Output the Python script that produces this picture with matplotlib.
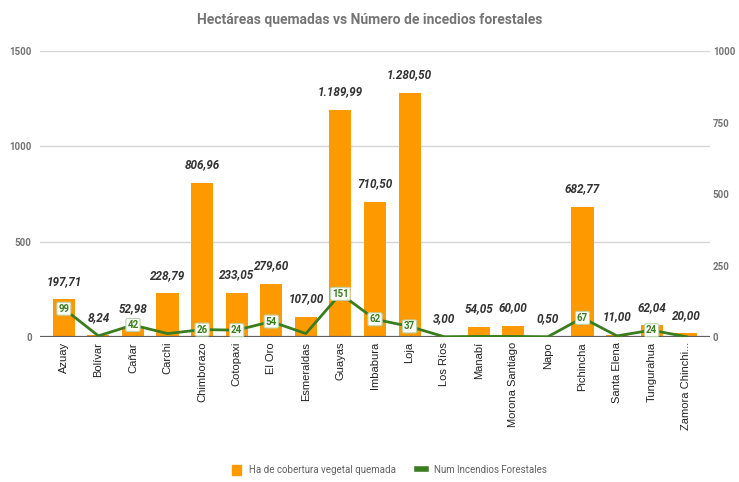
import numpy as np
import matplotlib.pyplot as plt

provincias = ['Azuay', 'Bolívar', 'Cañar', 'Carchi', 'Chimborazo', 'Cotopaxi',
              'El Oro', 'Esmeraldas', 'Guayas', 'Imbabura', 'Loja', 'Los Ríos',
              'Manabí', 'Morona Santiago', 'Napo', 'Pichincha', 'Santa Elena',
              'Tungurahua', 'Zamora Chinchi...']
hectareas = [197.71, 8.24, 52.98, 228.79, 806.96, 233.05, 279.60, 107.00,
             1189.99, 710.50, 1280.50, 3.00, 54.05, 60.00, 0.50, 682.77,
             11.00, 62.04, 20.00]
incendios = [99, 4, 42, 12, 26, 24, 54, 12, 151, 62, 37, 1, 2, 2, 1, 67, 4, 24, 1]
# los puntos con etiqueta en el original
con_etiqueta = [1, 0, 1, 0, 1, 1, 1, 0, 1, 1, 1, 0, 0, 0, 0, 1, 0, 1, 0]

naranja = '#ff9900'
verde = '#3a7d1f'
gris = '#757575'

def fmt_es(v):
    s = '{:,.2f}'.format(v)
    return s.replace(',', 'X').replace('.', ',').replace('X', '.')

fig = plt.figure(figsize=(7.39, 4.82), dpi=100)
ax = fig.add_axes([0.0541, 0.3008, 0.9067, 0.5934])
x = np.arange(len(provincias))

ax.bar(x, hectareas, width=0.64, color=naranja, zorder=2)
for i, v in enumerate(hectareas):
    ax.annotate(fmt_es(v), (x[i], v), xytext=(0, 13), textcoords='offset points',
                ha='center', va='center', fontsize=8.5, fontweight='bold',
                fontstyle='italic', color='#333333', family='Roboto', zorder=5)

ax.set_ylim(0, 1500)
ax.set_xlim(-0.69, len(provincias) - 0.31)
ax.set_yticks([0, 500, 1000, 1500])
ax.grid(axis='y', color='#d6d6d6', linewidth=1, zorder=0)
ax.axhline(0, color='#5f5f5f', linewidth=1.6, zorder=4)
for s in ax.spines.values():
    s.set_visible(False)
ax.tick_params(axis='both', length=0)
ax.tick_params(axis='y', labelsize=7, labelcolor=gris, pad=6)
for t in ax.get_yticklabels():
    t.set_fontweight('bold')
    t.set_family('Roboto')
ax.set_xticks(x)
ax.set_xticklabels(provincias, rotation=90, fontsize=8, family='Liberation Sans',
                   color='#222222')

ax2 = ax.twinx()
ax2.plot(x, incendios, color=verde, linewidth=2, zorder=3)
for i, v in enumerate(incendios):
    if con_etiqueta[i]:
        ax2.annotate(str(v), (x[i], v), ha='center', va='center', fontsize=7,
                     fontweight='bold', color=verde, family='Roboto', zorder=6,
                     bbox=dict(boxstyle='round,pad=0.15', fc='white',
                               ec='#b9d4ad', lw=0.8))
ax2.set_ylim(0, 1000)
ax2.set_yticks([0, 250, 500, 750, 1000])
for s in ax2.spines.values():
    s.set_visible(False)
ax2.tick_params(axis='y', length=0, labelsize=7, labelcolor=gris, pad=2)
for t in ax2.get_yticklabels():
    t.set_fontweight('bold')
    t.set_family('Roboto')

fig.text(0.5, 0.958, 'Hectáreas quemadas vs Número de incedios forestales',
         ha='center', va='center', fontsize=10, fontweight='bold', color=gris,
         family='Roboto')

h1 = plt.Rectangle((0, 0), 1, 1, color=naranja)
h2 = plt.Line2D([0], [0], color=verde, linewidth=4)
leg = fig.legend([h1, h2], ['Ha de cobertura vegetal quemada', 'Num Incendios Forestales'],
                 loc='center', bbox_to_anchor=(0.527, 0.025), ncol=2, frameon=False,
                 handlelength=0.9, handleheight=1.2, columnspacing=2.2,
                 handletextpad=0.8, prop={'family': 'Roboto', 'size': 7})
for t in leg.get_texts():
    t.set_color('#616161')

fig.savefig('out.png', dpi=100)
